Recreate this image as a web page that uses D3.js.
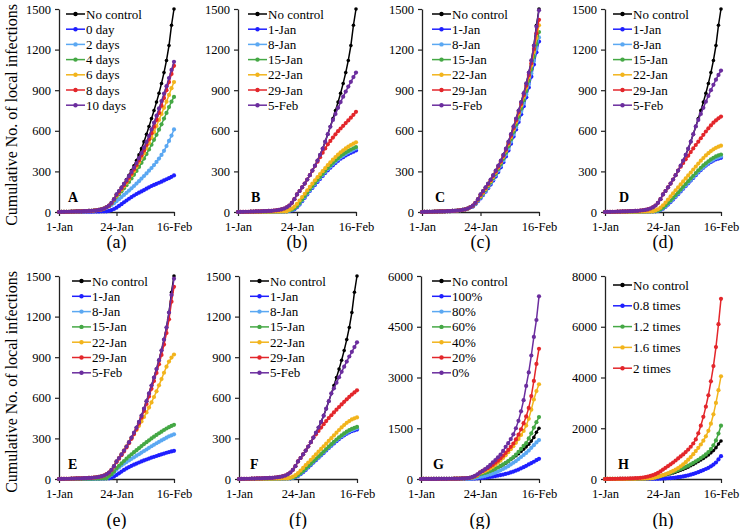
<!DOCTYPE html>
<html>
<head>
<meta charset="utf-8">
<script src="https://cdn.jsdelivr.net/npm/d3@7"></script>
<style>
body { margin: 0; background: #fff; }
svg text { font-family: "Liberation Serif", serif !important; fill: #000; }
</style>
</head>
<body>
<div id="chart"></div>
<script>
// Chart size
const WIDTH = 740, HEIGHT = 529;
const FONT = "Liberation Serif, serif";

// x axis: days since 1-Jan (0..46 = 1-Jan..16-Feb)
const dayTicks = [0, 23, 46];
const dayLabels = ["1-Jan", "24-Jan", "16-Feb"];

// y tick values
const ticks1500 = [0, 300, 600, 900, 1200, 1500];
const ticks6000 = [0, 1500, 3000, 4500, 6000];
const ticks8000 = [0, 2000, 4000, 6000, 8000];

// legend names
const namesA = ["No control", "0 day", "2 days", "4 days", "6 days", "8 days", "10 days"];
const namesDate = ["No control", "1-Jan", "8-Jan", "15-Jan", "22-Jan", "29-Jan", "5-Feb"];
const namesG = ["No control", "100%", "80%", "60%", "40%", "20%", "0%"];
const namesH = ["No control", "0.8 times", "1.2 times", "1.6 times", "2 times"];

const BLACK = "#000000", BLUE = "#1f1fff", SKY = "#5ba8f2", GREEN = "#45a845",
      GOLD = "#f2b41c", RED = "#e3262b", PURPLE = "#6b2d9e";
const colors7 = [BLACK, BLUE, SKY, GREEN, GOLD, RED, PURPLE];
const colorsH = [BLACK, BLUE, GREEN, GOLD, RED];

// first 20 days (1-Jan .. 20-Jan), shared starts
const early = [0,1,1,2,2,3,3,4,4,5,6,7,8,9,11,13,16,20,26,35];
const earlyLow = [0,0,0,0,0,1,1,1,1,1,2,2,2,2,3,3,3,4,4,5];
const earlyHigh = [0,2,4,6,8,10,12,14,17,20,24,28,33,38,48,60,75,95,120,150];

// cumulative infections, days 20..46 appended to the start
const noControl = early.concat([48,68,95,130,155,182,210,240,272,306,342,380,422,468,520,575,632,690,750,812,878,950,1030,1120,1230,1380,1500]);

// (a) delay of control
const a0 = earlyLow.concat([8,14,22,32,45,58,72,85,98,110,122,133,143,152,162,172,182,192,200,208,216,224,233,242,250,260,270]);
const a2 = early.concat([42,52,65,80,95,110,126,142,158,175,192,210,228,247,266,285,305,325,347,370,395,422,452,487,525,565,610]);
const a4 = early.concat([45,62,85,112,132,153,175,198,222,248,275,303,333,363,395,428,462,497,533,570,608,648,690,732,775,815,850]);
const a6 = early.concat([46,65,92,120,142,165,190,216,243,272,302,334,367,400,435,472,510,550,592,635,680,725,770,815,865,915,960]);
const a8 = early.concat([47,66,94,125,148,172,198,225,253,283,315,348,382,418,455,495,537,582,630,680,732,786,842,900,960,1020,1080]);
const a10 = early.concat([48,68,95,130,155,180,208,236,265,296,328,362,398,435,475,518,562,610,660,712,765,820,875,930,990,1050,1110]);

// (b)
const b1 = earlyLow.concat([8,12,20,35,55,80,105,130,155,178,200,222,244,266,288,308,327,345,362,378,394,405,418,428,437,446,455]);
const b8 = earlyLow.concat([10,15,24,40,60,85,110,135,160,184,207,230,252,274,296,317,336,354,372,388,404,416,429,440,450,460,470]);
const b15 = earlyLow.concat([12,18,28,45,66,92,118,143,168,192,215,238,260,282,304,325,345,364,382,398,414,427,440,451,461,471,480]);
const b22 = earlyLow.concat([15,25,40,60,85,110,135,160,185,210,234,257,280,302,324,346,367,387,406,424,441,456,470,483,495,505,515]);
const b29 = early.concat([48,68,95,130,155,182,210,240,272,305,340,372,405,438,470,500,525,550,574,597,617,637,657,677,697,718,740]);
const b5 = early.concat([48,68,95,130,155,182,210,240,272,306,342,380,422,468,520,575,630,680,725,770,812,852,890,927,962,997,1030]);

// (c)
const c1 = early.concat([40,58,80,100,125,150,176,203,232,262,295,330,368,410,455,505,557,610,665,722,782,847,920,1000,1090,1180,1260]);
const c8 = early.concat([42,60,84,105,130,156,183,211,241,272,306,342,381,424,470,520,573,627,683,741,802,868,942,1024,1116,1205,1290]);
const c15 = early.concat([44,63,88,110,136,163,190,219,250,282,317,354,394,438,486,537,591,646,703,763,826,894,970,1054,1148,1240,1330]);
const c22 = early.concat([46,65,91,118,143,170,198,228,260,293,329,367,408,453,502,555,610,667,726,787,851,920,997,1083,1182,1285,1380]);
const c29 = early.concat([47,67,93,125,150,177,205,235,267,300,336,374,415,460,510,564,620,678,738,799,864,934,1012,1100,1205,1320,1420]);
const c5 = early.concat([48,68,95,130,155,182,210,240,272,306,342,380,422,468,520,575,632,690,750,812,878,950,1030,1120,1230,1370,1490]);

// (d)
const d1 = earlyLow.concat([5,8,14,24,38,55,73,92,112,132,152,172,192,212,232,252,272,292,310,327,343,357,370,380,389,395,400]);
const d8 = earlyLow.concat([6,10,16,27,42,60,78,97,117,137,157,177,197,217,237,257,277,297,315,332,348,363,376,387,397,404,410]);
const d15 = earlyLow.concat([8,12,20,32,48,66,85,105,125,145,166,187,207,228,248,268,288,308,327,344,360,375,389,401,411,419,425]);
const d22 = earlyLow.concat([12,20,32,50,70,92,115,138,160,182,204,226,248,270,292,314,336,358,379,399,418,435,450,463,474,483,490]);
const d29 = early.concat([48,68,95,130,155,182,210,240,272,306,335,362,389,416,443,470,495,520,545,570,595,618,640,660,677,692,705]);
const d5 = early.concat([48,68,95,130,155,182,210,240,272,306,342,380,422,468,520,575,632,680,725,770,815,858,900,940,978,1013,1045]);

// (e)
const e1 = earlyLow.concat([5,10,18,30,42,55,67,78,88,97,106,114,122,130,137,144,151,158,164,170,176,182,188,194,199,204,208]);
const e8 = earlyLow.concat([20,32,48,70,85,100,113,125,137,149,160,172,183,195,207,218,230,242,253,264,275,285,295,305,315,323,330]);
const e15 = earlyLow.concat([22,36,55,80,98,115,133,150,167,183,198,213,228,243,258,272,286,300,313,326,338,350,362,373,383,392,400]);
const e22 = early.concat([47,67,94,128,155,183,212,242,272,302,332,362,393,425,458,492,528,566,606,648,692,738,785,830,868,897,920]);
const e29 = early.concat([47,67,93,125,150,176,204,233,264,297,332,369,410,454,503,555,610,666,724,784,848,917,993,1078,1180,1310,1420]);
const e5 = early.concat([48,68,95,130,155,182,210,240,272,306,342,380,422,468,520,575,632,690,750,812,878,950,1030,1120,1230,1360,1480]);

// (f)
const f1 = earlyLow.concat([5,8,13,22,35,50,67,85,103,121,139,157,175,193,211,229,246,263,279,295,310,323,335,345,353,360,365]);
const f8 = earlyLow.concat([5,9,15,26,39,55,72,90,108,126,144,162,180,198,216,234,252,269,286,301,316,330,342,352,361,369,375]);
const f15 = earlyLow.concat([6,11,18,30,44,60,77,95,113,131,149,167,185,203,221,239,257,275,292,308,323,337,350,361,370,378,385]);
const f22 = earlyLow.concat([10,17,28,44,62,82,102,122,142,162,182,202,222,242,262,282,302,322,342,362,381,399,415,428,440,448,455]);
const f29 = early.concat([48,68,95,130,155,182,210,240,272,306,330,355,380,405,428,450,471,492,512,532,551,570,589,607,624,640,655]);
const f5 = early.concat([48,68,95,130,155,182,210,240,272,306,342,380,422,468,520,575,632,670,712,752,792,830,868,905,940,975,1010]);

// (g) share of control
const g100 = earlyLow.concat([8,12,18,25,32,40,50,60,72,85,100,115,130,150,170,195,220,250,280,315,350,390,430,470,510,555,595]);
const g80 = earlyLow.concat([20,30,45,60,75,95,115,135,160,190,220,255,295,335,380,430,480,530,590,650,710,770,840,920,1000,1080,1150]);
const g60 = early.concat([45,65,95,140,160,180,205,235,265,300,340,385,430,480,530,590,650,720,800,890,980,1060,1200,1350,1520,1680,1830]);
const g40 = early.concat([50,75,110,170,200,235,270,310,360,420,480,545,620,700,790,880,970,1070,1180,1300,1420,1580,1780,2050,2350,2600,2800]);
const g20 = early.concat([55,85,130,200,240,280,320,370,420,480,540,610,690,770,860,950,1050,1170,1310,1470,1650,1850,2100,2450,2900,3400,3850]);
const g0 = early.concat([60,95,140,190,240,290,350,420,490,560,640,720,830,950,1060,1180,1320,1500,1720,2000,2330,2750,3150,3650,4200,4700,5400]);

// (h) transmission multiplier
const h08 = earlyLow.concat([6,8,10,15,22,30,38,48,58,70,82,100,120,145,170,200,235,270,310,350,395,440,500,570,650,770,900]);
const h12 = early.concat([55,78,108,145,175,208,240,275,312,350,390,432,478,527,580,636,695,758,825,895,970,1060,1180,1330,1520,1790,2100]);
const h16 = early.concat([65,90,120,150,185,225,270,320,370,430,500,580,665,760,865,980,1100,1230,1360,1510,1680,1900,2180,2550,3000,3500,4050]);
const h2 = earlyHigh.concat([190,240,300,370,440,510,580,650,730,810,890,970,1060,1160,1270,1400,1560,1800,2100,2450,2850,3300,3850,4450,5200,6100,7100]);

const TOP_ROW = {top: 9, bottom: 212, titleY: 115, captionY: 248};
const BOT_ROW = {top: 276, bottom: 479, titleY: 382, captionY: 526};

const panels = [
    {letter: "A", cap: "(a)", row: TOP_ROW, x0: 59, x1: 174, yMax: 1500, ticks: ticks1500, names: namesA, colors: colors7,
     data: [noControl, a0, a2, a4, a6, a8, a10], legX: 7, legY: 14, legStep: 15.2, letterDx: 9},
    {letter: "B", cap: "(b)", row: TOP_ROW, x0: 238, x1: 356, yMax: 1500, ticks: ticks1500, names: namesDate, colors: colors7,
     data: [noControl, b1, b8, b15, b22, b29, b5], legX: 10, legY: 14, legStep: 15.2, letterDx: 13},
    {letter: "C", cap: "(c)", row: TOP_ROW, x0: 422, x1: 539, yMax: 1500, ticks: ticks1500, names: namesDate, colors: colors7,
     data: [noControl, c1, c8, c15, c22, c29, c5], legX: 10, legY: 14, legStep: 15.2, letterDx: 13},
    {letter: "D", cap: "(d)", row: TOP_ROW, x0: 605, x1: 721, yMax: 1500, ticks: ticks1500, names: namesDate, colors: colors7,
     data: [noControl, d1, d8, d15, d22, d29, d5], legX: 8, legY: 14, legStep: 15.2, letterDx: 14},
    {letter: "E", cap: "(e)", row: BOT_ROW, x0: 59, x1: 174, yMax: 1500, ticks: ticks1500, names: namesDate, colors: colors7,
     data: [noControl, e1, e8, e15, e22, e29, e5], legX: 13, legY: 281, legStep: 15.3, letterDx: 9},
    {letter: "F", cap: "(f)", row: BOT_ROW, x0: 239, x1: 357, yMax: 1500, ticks: ticks1500, names: namesDate, colors: colors7,
     data: [noControl, f1, f8, f15, f22, f29, f5], legX: 11, legY: 281, legStep: 15.3, letterDx: 11},
    {letter: "G", cap: "(g)", row: BOT_ROW, x0: 421, x1: 539, yMax: 6000, ticks: ticks6000, names: namesG, colors: colors7,
     data: [noControl, g100, g80, g60, g40, g20, g0], legX: 11, legY: 281, legStep: 15.3, letterDx: 12},
    {letter: "H", cap: "(h)", row: BOT_ROW, x0: 605, x1: 721, yMax: 8000, ticks: ticks8000, names: namesH, colors: colorsH,
     data: [noControl, h08, h12, h16, h2], legX: 8, legY: 285, legStep: 20.8, letterDx: 13}
];

const svg = d3.select("#chart")
    .append("svg")
    .attr("width", WIDTH)
    .attr("height", HEIGHT)
    .attr("font-family", FONT);

// y axis titles, one per row
[TOP_ROW, BOT_ROW].forEach(function(row) {
    svg.append("text")
        .attr("transform", `translate(17, ${row.titleY}) rotate(-90)`)
        .style("text-anchor", "middle")
        .style("font-size", "16px")
        .text("Cumulative No. of local infections");
});

panels.forEach(function(p) {
    let g = svg.append("g");
    let x = d3.scaleLinear().domain([0, 46]).range([p.x0, p.x1]);
    let y = d3.scaleLinear().domain([0, p.yMax]).range([p.row.bottom, p.row.top]);

    // axes
    let yAxis = g.append("g")
        .attr("transform", `translate(${p.x0}, 0)`)
        .call(d3.axisLeft(y).tickValues(p.ticks).tickFormat(d3.format("d"))
            .tickSize(4).tickSizeOuter(0).tickPadding(4));
    let xAxis = g.append("g")
        .attr("transform", `translate(0, ${p.row.bottom})`)
        .call(d3.axisBottom(x).tickValues(dayTicks).tickFormat((d, i) => dayLabels[i])
            .tickSize(4).tickSizeOuter(0).tickPadding(6));
    [yAxis, xAxis].forEach(function(ax) {
        ax.attr("font-family", FONT).attr("font-size", 12.5);
        ax.select(".domain").attr("stroke", "#222").attr("stroke-width", 1.3);
        ax.selectAll(".tick line").attr("stroke", "#222").attr("stroke-width", 1.2);
    });

    // lines with markers
    let line = d3.line()
        .x((d, i) => x(i))
        .y(d => y(d));
    p.data.forEach(function(vals, k) {
        let col = p.colors[k];
        g.append("path")
            .datum(vals)
            .attr("fill", "none")
            .attr("stroke", col)
            .attr("stroke-width", 1.5)
            .attr("d", line);
        g.append("g").selectAll("circle")
            .data(vals)
            .enter()
            .append("circle")
            .attr("cx", (d, i) => x(i))
            .attr("cy", d => y(d))
            .attr("r", k === 0 ? 1.8 : 2.1)
            .attr("fill", col);
    });

    // legend
    let leg = g.append("g");
    p.names.forEach(function(name, k) {
        let ly = p.legY + k * p.legStep;
        let lx = p.x0 + p.legX;
        leg.append("line")
            .attr("x1", lx).attr("x2", lx + 19)
            .attr("y1", ly).attr("y2", ly)
            .attr("stroke", p.colors[k])
            .attr("stroke-width", 1.5);
        leg.append("circle")
            .attr("cx", lx + 9.5).attr("cy", ly)
            .attr("r", 2.2)
            .attr("fill", p.colors[k]);
        leg.append("text")
            .attr("x", lx + 20)
            .attr("y", ly + 4.5)
            .style("font-size", "13px")
            .text(name);
    });

    // panel letter and caption
    g.append("text")
        .attr("x", p.x0 + p.letterDx)
        .attr("y", p.row.bottom - 10)
        .style("font-size", "14px")
        .style("font-weight", "bold")
        .text(p.letter);
    g.append("text")
        .attr("x", (p.x0 + p.x1) / 2)
        .attr("y", p.row.captionY)
        .style("text-anchor", "middle")
        .style("font-size", "18px")
        .text(p.cap);
});
</script>
</body>
</html>
